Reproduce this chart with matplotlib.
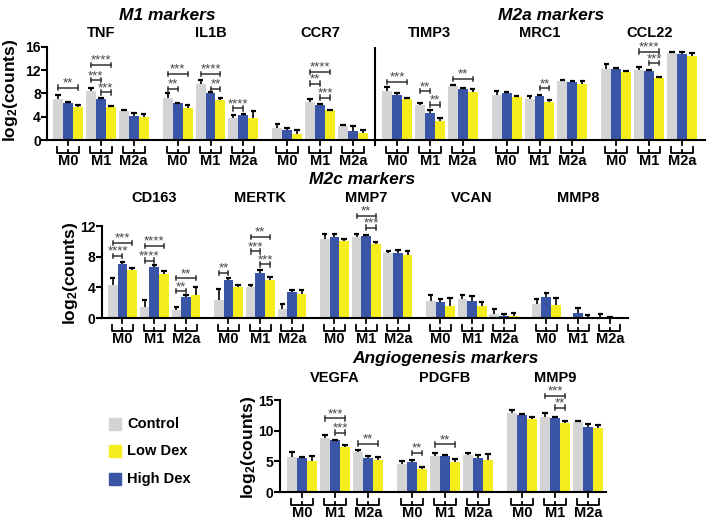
import numpy as np
import matplotlib
matplotlib.use('Agg')
import matplotlib.pyplot as plt
from matplotlib.patches import Rectangle

plt.rcParams['font.family'] = ['Liberation Sans', 'DejaVu Sans']
plt.rcParams['font.weight'] = 'bold'
plt.rcParams['mathtext.default'] = 'regular'

W, H = 714, 527
groups = ['M0', 'M1', 'M2a']
c_ctrl, c_low, c_high = '#d4d4d6', '#f6ee1c', '#3b55a6'

# bar order inside each group: control, high dex, low dex
# ---- top row: M1 + M2a markers ----
top_genes = ['TNF', 'IL1B', 'CCR7', 'TIMP3', 'MRC1', 'CCL22']
top_ctrl = [[7.1, 8.5, 5.0], [7.2, 9.7, 3.8], [2.0, 6.6, 2.35], [8.4, 6.0, 9.3], [7.7, 7.1, 10.1], [12.3, 12.0, 15.0]]
top_ctrl_err = [[0.6, 0.5, 0.15], [0.8, 0.7, 0.5], [0.8, 0.5, 0.25], [0.7, 0.4, 0.15], [0.7, 0.5, 0.15], [0.7, 0.5, 0.2]]
top_high = [[6.4, 7.1, 4.1], [6.3, 8.1, 4.25], [1.7, 6.0, 1.55], [7.7, 4.6, 8.7], [8.1, 7.6, 9.9], [12.3, 11.8, 14.8]]
top_high_err = [[0.2, 0.2, 0.6], [0.1, 0.1, 0.25], [0.3, 0.2, 0.85], [0.3, 0.6, 0.3], [0.2, 0.15, 0.2], [0.15, 0.2, 0.3]]
top_low = [[5.6, 5.6, 3.9], [5.5, 6.9, 3.8], [1.0, 5.1, 1.25], [7.1, 3.3, 8.3], [7.4, 6.5, 9.7], [11.7, 10.7, 14.5]]
top_low_err = [[0.4, 0.3, 0.5], [0.5, 0.3, 1.2], [0.8, 0.1, 0.55], [0.2, 0.5, 0.4], [0.2, 0.3, 0.5], [0.2, 0.2, 0.5]]
# (gene, group, bar a, bar b, height, label)
top_sig = [(0, 0, 0, 2, 9.0, '**'), (0, 1, 0, 1, 10.3, '***'), (0, 1, 0, 2, 12.9, '****'), (0, 1, 1, 2, 8.2, '***'),
           (1, 0, 0, 1, 8.8, '**'), (1, 0, 0, 2, 11.4, '***'), (1, 1, 0, 2, 11.4, '****'), (1, 1, 1, 2, 8.8, '**'),
           (1, 2, 0, 1, 5.45, '****'),
           (2, 1, 0, 2, 11.75, '****'), (2, 1, 0, 1, 9.7, '**'), (2, 1, 1, 2, 7.3, '***'),
           (3, 0, 0, 2, 10.0, '***'), (3, 1, 0, 1, 8.4, '**'), (3, 1, 1, 2, 6.1, '**'), (3, 2, 0, 2, 10.5, '**'),
           (4, 1, 1, 2, 8.9, '**'),
           (5, 1, 0, 2, 15.2, '****'), (5, 1, 1, 2, 13.2, '***')]

# ---- middle row: M2c markers ----
mid_genes = ['CD163', 'MERTK', 'MMP7', 'VCAN', 'MMP8']
mid_ctrl = [[4.3, 1.5, 1.1], [2.4, 4.0, 1.2], [10.3, 10.6, 8.5], [2.2, 2.5, 0.55], [1.8, 0.0, 0.05]]
mid_ctrl_err = [[0.9, 0.9, 0.4], [1.4, 0.3, 0.6], [0.6, 0.3, 0.3], [0.8, 0.5, 0.65], [0.7, 0.0, 0.5]]
mid_high = [[7.0, 6.7, 2.8], [4.9, 5.9, 3.4], [10.6, 10.65, 8.5], [2.1, 2.2, 0.2], [2.7, 0.65, 0.05]]
mid_high_err = [[0.3, 0.15, 0.15], [0.3, 0.35, 0.2], [0.3, 0.15, 0.4], [0.4, 0.7, 0.35], [0.55, 0.65, 0.1]]
mid_low = [[6.25, 5.8, 3.0], [4.0, 5.0, 3.1], [10.0, 9.6, 8.2], [1.6, 1.6, 0.2], [1.7, 0.1, 0.0]]
mid_low_err = [[0.25, 0.3, 1.0], [0.3, 0.3, 0.6], [0.3, 0.3, 0.5], [1.0, 0.5, 0.5], [0.9, 0.25, 0.0]]
mid_sig = [(0, 0, 0, 1, 8.1, '****'), (0, 0, 0, 2, 9.8, '***'), (0, 1, 0, 1, 7.5, '****'), (0, 1, 0, 2, 9.4, '****'),
           (0, 2, 0, 1, 3.5, '**'), (0, 2, 0, 2, 5.2, '**'),
           (1, 0, 0, 1, 5.9, '**'), (1, 1, 0, 1, 8.7, '***'), (1, 1, 0, 2, 10.6, '**'), (1, 1, 1, 2, 7.0, '***'),
           (2, 1, 0, 2, 13.3, '**'), (2, 1, 1, 2, 11.8, '***')]

# ---- bottom row: angiogenesis markers ----
bot_genes = ['VEGFA', 'PDGFB', 'MMP9']
bot_ctrl = [[5.7, 8.8, 6.5], [4.6, 5.9, 6.0], [12.8, 12.3, 11.35]]
bot_ctrl_err = [[0.9, 0.5, 0.3], [0.5, 0.5, 0.4], [0.6, 0.5, 0.15]]
bot_high = [[5.6, 8.45, 5.6], [4.9, 5.8, 5.5], [12.5, 12.0, 10.6]]
bot_high_err = [[0.1, 0.1, 0.2], [0.3, 0.2, 0.5], [0.2, 0.3, 0.5]]
bot_low = [[5.0, 7.4, 5.2], [3.8, 4.9, 5.2], [11.9, 11.2, 10.4]]
bot_low_err = [[0.8, 0.2, 0.5], [0.3, 0.55, 1.0], [0.3, 0.3, 0.6]]
bot_sig = [(0, 1, 0, 2, 12.0, '***'), (0, 1, 1, 2, 9.7, '***'), (0, 2, 0, 2, 7.9, '**'),
           (1, 0, 1, 2, 6.4, '**'), (1, 1, 0, 2, 7.75, '**'),
           (2, 1, 0, 2, 15.7, '***'), (2, 1, 1, 2, 13.75, '**')]

fig = plt.figure(figsize=(W / 100, H / 100), dpi=100)


def draw_panel(genes, ctrl, ctrl_e, high, high_e, low, low_e, sig, box, ymax, yticks, x0, xmax, gene_y, ylab_xy):
    left, right, ybot, ytop = box   # pixels
    ax = fig.add_axes([left / W, 1 - ybot / H, (right - left) / W, (ybot - ytop) / H])
    axh = ybot - ytop
    ppu = axh / ymax
    vals = [np.array(ctrl), np.array(high), np.array(low)]
    errs = [np.array(ctrl_e), np.array(high_e), np.array(low_e)]
    cols = [c_ctrl, c_high, c_low]
    ng = len(genes)
    base = x0 + 11 * np.arange(ng)[:, None] + 3.3 * np.arange(3)[None, :] + 0.5
    for j in range(3):
        xs = (base + j).ravel()
        v = vals[j].ravel()
        e = errs[j].ravel()
        ax.bar(xs, v, width=1.0, color=cols[j], linewidth=0, zorder=2)
        for x, vv, ee in zip(xs, v, e):
            if ee > 0:
                ax.plot([x, x], [vv, vv + ee], color='k', lw=1.2, zorder=3, solid_capstyle='butt')
                ax.plot([x - 0.28, x + 0.28], [vv + ee, vv + ee], color='k', lw=1.6, zorder=3,
                        solid_capstyle='butt')

    # significance brackets
    d = 2.2 / ppu
    for g, k, a, b, y, s in sig:
        xa, xb = base[g, k] + a, base[g, k] + b
        for seg in ([xa, xb], [y, y]), ([xa, xa], [y - d, y + d]), ([xb, xb], [y - d, y + d]):
            ax.plot(*seg, color='#333333', lw=1.1, clip_on=False, zorder=4)
        ax.annotate(s, (0.5 * (xa + xb), y), xytext=(0, 0.8), textcoords='offset points',
                    ha='center', va='baseline', fontsize=9.5, color='#444444', fontweight='normal',
                    annotation_clip=False)

    # group brackets under the axis
    xt = ax.get_xaxis_transform()
    for g in range(ng):
        for k in range(3):
            c = base[g, k] + 1.0
            ax.plot([c, c], [0, -5 / axh], transform=xt, clip_on=False, color='k', lw=1.3)
            ax.plot([c - 1.1, c - 1.1, c + 1.1, c + 1.1], [-7 / axh, -13 / axh, -13 / axh, -7 / axh],
                    transform=xt, clip_on=False, color='k', lw=1.3)
            ax.plot([c, c], [-13 / axh, -10 / axh], transform=xt, clip_on=False, color='k', lw=1.3)
            ax.text(c, -21 / axh, groups[k], transform=xt, ha='center', va='center', fontsize=10.5)

    gt = matplotlib.transforms.blended_transform_factory(ax.transData, fig.transFigure)
    for g, name in enumerate(genes):
        ax.text(base[g, 1] + 1.0, 1 - gene_y / H, name, transform=gt, ha='center', va='center', fontsize=10.5)

    ax.set_xlim(0, xmax)
    ax.set_ylim(0, ymax)
    ax.set_yticks(yticks)
    ax.set_xticks([])
    ax.tick_params(axis='y', direction='out', length=4, width=1.5, labelsize=10, pad=0.5)
    for sp in ['top', 'right']:
        ax.spines[sp].set_visible(False)
    for sp in ['left', 'bottom']:
        ax.spines[sp].set_linewidth(1.5)
    fig.text(ylab_xy[0] / W, 1 - ylab_xy[1] / H, 'log$_2$(counts)', rotation=90,
             ha='center', va='center', fontsize=12.5)
    return ax, ppu


ax1, ppu1 = draw_panel(top_genes, top_ctrl, top_ctrl_err, top_high, top_high_err, top_low, top_low_err, top_sig,
                       (47, 705, 140, 47), 16, [0, 4, 8, 12, 16], 0.6, 66.0, 33, (11, 90))
ax1.plot([32.9, 32.9], [15.8, -0.9], color='k', lw=1.5, clip_on=False)

draw_panel(mid_genes, mid_ctrl, mid_ctrl_err, mid_high, mid_high_err, mid_low, mid_low_err, mid_sig,
           (102, 628, 318, 226), 12, [0, 4, 8, 12], 0.62, 54.6, 198, (70, 273))

draw_panel(bot_genes, bot_ctrl, bot_ctrl_err, bot_high, bot_high_err, bot_low, bot_low_err, bot_sig,
           (280, 606, 492, 400), 15, [0, 5, 10, 15], 0.7, 32.6, 378, (249, 447))

# section titles
for txt, x, y in [('M1 markers', 167, 15), ('M2a markers', 551, 16),
                  ('M2c markers', 362, 179), ('Angiogenesis markers', 445, 358)]:
    fig.text(x / W, 1 - y / H, txt, ha='center', va='center', fontsize=12.5, style='italic')

# legend
for lab, col, y in [('Control', c_ctrl, 424), ('Low Dex', c_low, 451), ('High Dex', c_high, 479)]:
    fig.patches.append(Rectangle(((109) / W, 1 - (y + 6) / H), 12 / W, 12 / H, color=col,
                                 transform=fig.transFigure, figure=fig))
    fig.text(127 / W, 1 - y / H, lab, ha='left', va='center', fontsize=10.5)

fig.savefig('out.png', dpi=100)
